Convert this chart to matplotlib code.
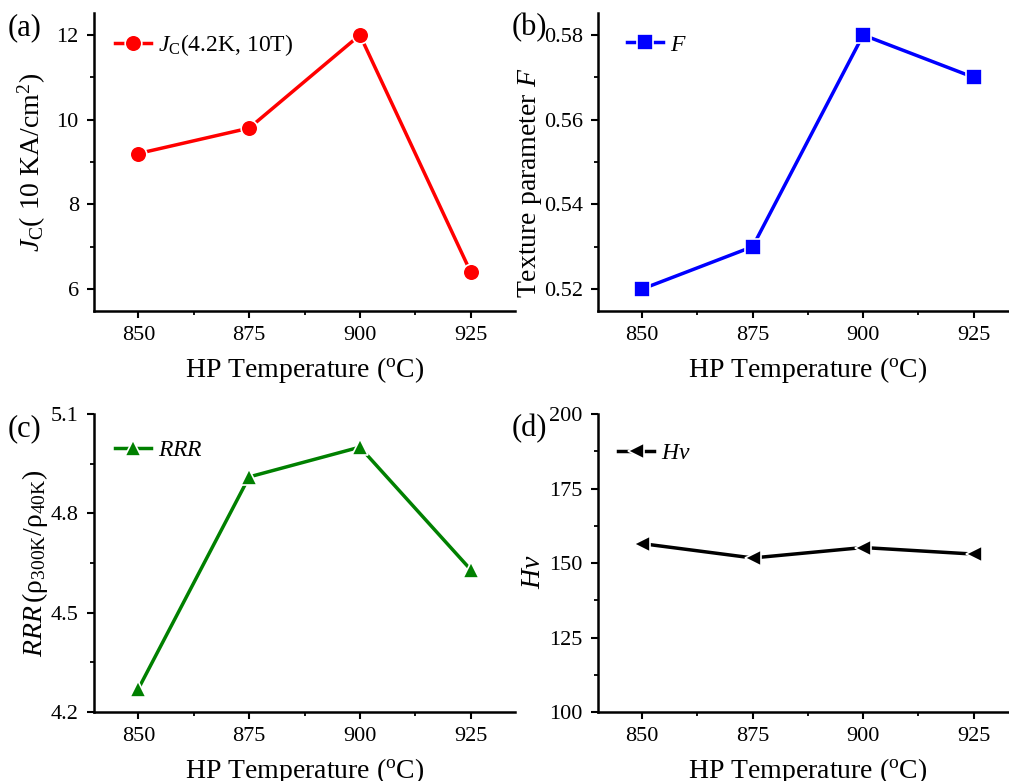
import numpy as np
import matplotlib
matplotlib.use("Agg")
import matplotlib.pyplot as plt
from matplotlib.ticker import MultipleLocator

plt.rcParams['font.family'] = ['Liberation Serif', 'DejaVu Serif']
plt.rcParams['mathtext.fontset'] = 'custom'
plt.rcParams['mathtext.rm'] = 'Liberation Serif'
plt.rcParams['mathtext.it'] = 'Liberation Serif:italic'
plt.rcParams['mathtext.bf'] = 'Liberation Serif:bold'

# data
temps = [850, 875, 900, 925]
jc = [9.2, 9.8, 12.0, 6.4]
texture_f = [0.52, 0.53, 0.58, 0.57]
rrr = [4.27, 4.91, 5.0, 4.63]
hv = [156.5, 151.7, 155.2, 153.0]

xlabel = r'HP Temperature ($^\mathrm{o}$C)'

fig = plt.figure(figsize=(10.09, 7.81), dpi=100)

panels = [
    # rect, y, color, marker, legend label, ylabel, ylim, major, minor, tag, legend anchor, ylabel x/y
    ([0.0932, 0.6018, 0.4172, 0.3816], jc, 'red', 'o', r'$\mathit{J}_\mathrm{C}$(4.2K, 10T)',
     r'$\mathit{J}_\mathrm{C}$( 10 KA/cm$^2$)', (5.48, 12.52), 2, 1, '(a)', (0.05, 0.893), -0.11, 0.5),
    ([0.5927, 0.6018, 0.4160, 0.3816], texture_f, 'blue', 's', r'$\mathit{F}$',
     r'Texture parameter $\mathit{F}$', (0.5148, 0.5852), 0.02, 0.01, '(b)', (0.07, 0.893), -0.128, 0.43),
    ([0.0932, 0.0883, 0.4172, 0.3816], rrr, 'green', '^', r'$\mathit{RRR}$',
     r'$\mathit{RRR}\,$($\mathrm{\rho}_\mathrm{300K}$/$\mathrm{\rho}_\mathrm{40K}$)', (4.2, 5.1), 0.3, 0.15, '(c)', (0.05, 0.879), -0.105, 0.5),
    ([0.5927, 0.0883, 0.4160, 0.3816], hv, 'black', '<', r'$\mathit{Hv}$',
     r'$\mathit{Hv}$', (100, 200), 25, 12.5, '(d)', (0.048, 0.869), -0.125, 0.47),
]

for rect, y, color, marker, lab, ylab, ylim, major, minor, tag, anchor, lx, ly in panels:
    ax = fig.add_axes(rect)
    ax.plot(temps, y, color=color, marker=marker, lw=2.5, ms=12,
            mec='white', mew=1.2, label=lab)
    ax.set_xlim(840, 935)
    ax.set_ylim(*ylim)
    ax.set_xticks(temps)
    ax.xaxis.set_minor_locator(MultipleLocator(12.5))
    ax.yaxis.set_major_locator(MultipleLocator(major))
    ax.yaxis.set_minor_locator(MultipleLocator(minor))
    if tag == '(b)':
        ax.yaxis.set_major_formatter(plt.FormatStrFormatter('%.2f'))
    elif tag == '(c)':
        ax.yaxis.set_major_formatter(plt.FormatStrFormatter('%.1f'))
    for s in ['top', 'right']:
        ax.spines[s].set_visible(False)
    for s in ['left', 'bottom']:
        ax.spines[s].set_linewidth(1.8)
    ax.tick_params(which='major', direction='out', length=5, width=1.5, labelsize=16, pad=6)
    ax.tick_params(which='minor', direction='out', length=3, width=1.3)
    ax.set_xlabel(xlabel, fontsize=20, labelpad=7)
    ax.set_ylabel(ylab, fontsize=20)
    ax.yaxis.set_label_coords(lx, ly)
    ax.legend(loc='center left', bbox_to_anchor=anchor, frameon=False, fontsize=17,
              handlelength=1.5, handletextpad=0.3, borderpad=0, borderaxespad=0)
    ax.text(-0.205, 1.0, tag, transform=ax.transAxes, fontsize=22, va='top', ha='left')

fig.savefig('out.png', dpi=100)
